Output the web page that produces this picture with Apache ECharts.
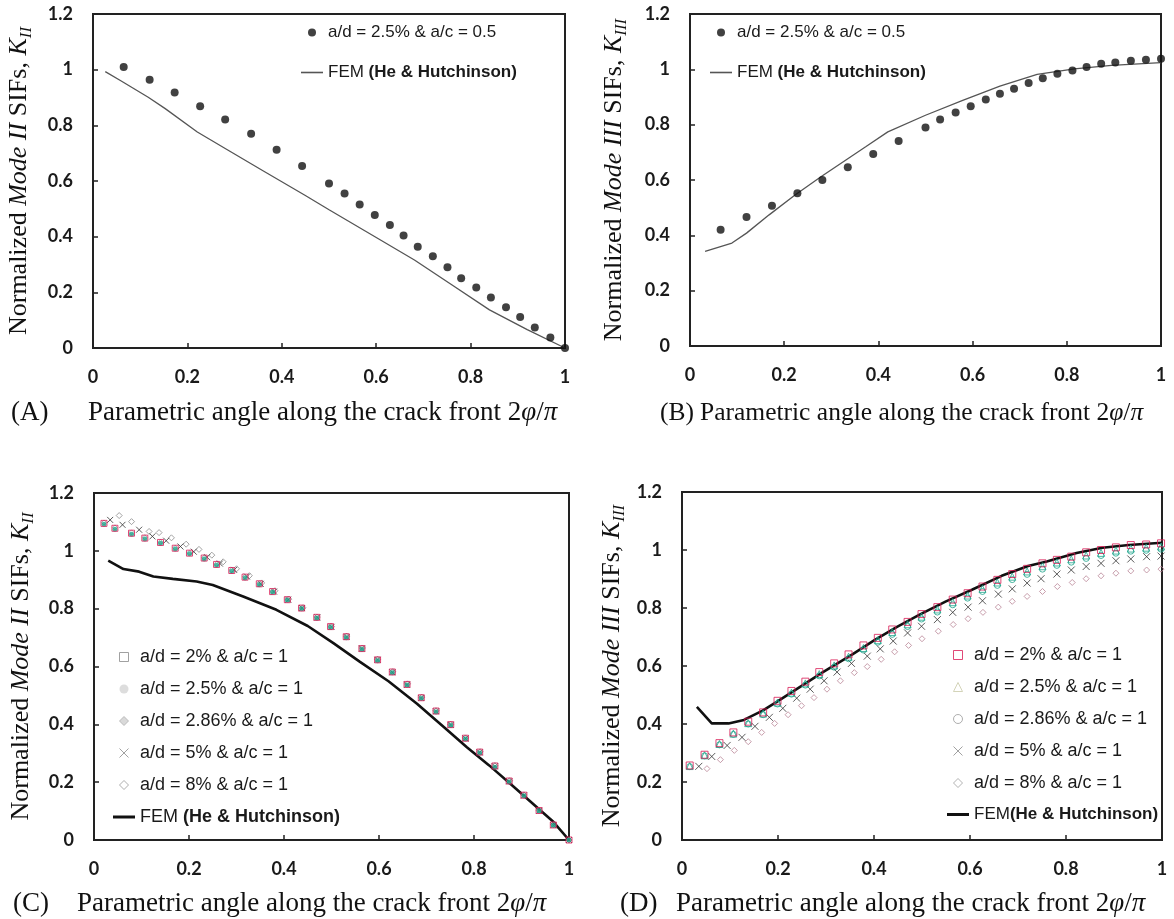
<!DOCTYPE html>
<html>
<head>
<meta charset="utf-8">
<script src="https://cdn.jsdelivr.net/npm/echarts@6/dist/echarts.min.js"></script>
<style>
  html, body { margin: 0; padding: 0; background: #ffffff; }
  #chart { width: 1174px; height: 919px; }
</style>
</head>
<body>
<div id="chart"></div>
<script>
// ---------- Panel A: Mode II, a/d = 2.5 %, a/c = 0.5 ----------
const aX    = [0.065,0.12,0.173,0.227,0.28,0.335,0.389,0.443,0.5,0.533,0.565,0.597,0.629,0.658,0.688,0.72,0.751,0.78,0.812,0.843,0.875,0.905,0.936,0.969,1.0];
const aK    = [1.01,0.964,0.918,0.869,0.821,0.77,0.712,0.654,0.591,0.555,0.516,0.478,0.442,0.404,0.364,0.33,0.29,0.251,0.217,0.181,0.146,0.111,0.074,0.038,0.0];
const aFemX = [0.026,0.058,0.117,0.153,0.221,0.281,0.361,0.449,0.501,0.601,0.681,0.76,0.84,0.92,1.0];
const aFemK = [0.993,0.961,0.901,0.86,0.776,0.716,0.636,0.549,0.496,0.396,0.316,0.227,0.137,0.066,0.0];

// ---------- Panel B: Mode III, a/d = 2.5 %, a/c = 0.5 ----------
const bX    = [0.065,0.12,0.174,0.228,0.281,0.335,0.389,0.443,0.5,0.531,0.564,0.596,0.628,0.658,0.688,0.719,0.749,0.78,0.812,0.842,0.873,0.903,0.936,0.968,1.0];
const bK    = [0.42,0.466,0.507,0.552,0.6,0.646,0.694,0.741,0.79,0.819,0.844,0.867,0.891,0.912,0.93,0.951,0.968,0.984,0.996,1.008,1.02,1.025,1.031,1.035,1.038];
const bFemX = [0.032,0.089,0.12,0.168,0.223,0.278,0.373,0.42,0.5,0.579,0.658,0.737,0.816,0.895,1.0];
const bFemK = [0.342,0.372,0.408,0.474,0.546,0.612,0.72,0.774,0.834,0.888,0.939,0.982,1.002,1.014,1.024];

// ---------- Panel C: Mode II, a/c = 1 ----------
const cX     = [0.021,0.044,0.079,0.107,0.14,0.171,0.201,0.232,0.258,0.29,0.318,0.348,0.376,0.407,0.437,0.469,0.498,0.531,0.564,0.597,0.628,0.659,0.689,0.72,0.751,0.782,0.812,0.844,0.874,0.905,0.937,0.967,1.0];
const cK2    = [1.095,1.078,1.061,1.044,1.029,1.009,0.992,0.975,0.953,0.932,0.909,0.886,0.859,0.831,0.802,0.77,0.738,0.703,0.662,0.623,0.581,0.538,0.492,0.446,0.399,0.352,0.304,0.256,0.204,0.155,0.102,0.052,0.0];
const cK25   = [1.092,1.075,1.057,1.041,1.026,1.006,0.99,0.972,0.95,0.929,0.906,0.883,0.857,0.829,0.8,0.767,0.735,0.699,0.659,0.62,0.578,0.535,0.489,0.443,0.396,0.349,0.301,0.252,0.201,0.152,0.1,0.05,0.0];
const cK286  = [1.098,1.081,1.064,1.047,1.031,1.011,0.994,0.977,0.955,0.934,0.911,0.888,0.861,0.833,0.804,0.772,0.74,0.705,0.664,0.625,0.583,0.54,0.494,0.448,0.401,0.354,0.306,0.258,0.206,0.157,0.104,0.053,0.0];
const cX5    = [0.034,0.06,0.095,0.123,0.152,0.182,0.21,0.238,0.265,0.295,0.322,0.351,0.379,0.409,0.438,0.47,0.5,0.532,0.564,0.597,0.628,0.659,0.689,0.72,0.751,0.782,0.812,0.844,0.874,0.905,0.937,0.967,1.0];
const cK5    = [1.107,1.09,1.073,1.05,1.035,1.015,0.997,0.978,0.956,0.934,0.911,0.886,0.859,0.831,0.802,0.77,0.737,0.702,0.662,0.623,0.58,0.537,0.491,0.445,0.398,0.351,0.303,0.255,0.203,0.154,0.101,0.051,0.0];
const cX8    = [0.053,0.079,0.116,0.137,0.163,0.194,0.221,0.248,0.272,0.3,0.327,0.353,0.381,0.41,0.44,0.47,0.5,0.532,0.565,0.597,0.629,0.66,0.69,0.72,0.751,0.782,0.813,0.844,0.875,0.905,0.937,0.968,1.0];
const cK8    = [1.122,1.101,1.067,1.063,1.045,1.023,1.005,0.985,0.962,0.938,0.914,0.889,0.862,0.833,0.803,0.771,0.738,0.705,0.664,0.625,0.582,0.54,0.494,0.447,0.4,0.353,0.305,0.257,0.205,0.156,0.103,0.053,0.0];
const cFemX  = [0.03,0.062,0.095,0.125,0.166,0.216,0.25,0.314,0.384,0.45,0.504,0.56,0.62,0.68,0.737,0.785,0.832,0.88,0.927,0.967,1.0];
const cFemK  = [0.966,0.937,0.928,0.911,0.903,0.894,0.882,0.842,0.796,0.74,0.681,0.616,0.549,0.471,0.39,0.321,0.258,0.189,0.121,0.063,0.0];

// ---------- Panel D: Mode III, a/c = 1 ----------
const dX     = [0.016,0.047,0.078,0.107,0.138,0.169,0.199,0.228,0.257,0.286,0.317,0.347,0.378,0.408,0.438,0.47,0.499,0.532,0.564,0.595,0.626,0.657,0.688,0.719,0.751,0.781,0.811,0.842,0.873,0.904,0.935,0.967,0.998];
const dK2    = [0.257,0.294,0.334,0.371,0.408,0.44,0.48,0.514,0.546,0.579,0.609,0.64,0.671,0.697,0.726,0.752,0.779,0.803,0.829,0.851,0.874,0.897,0.917,0.935,0.954,0.966,0.977,0.992,1.0,1.009,1.017,1.019,1.023];
const dK25   = [0.255,0.292,0.331,0.367,0.403,0.436,0.474,0.508,0.54,0.572,0.602,0.632,0.662,0.689,0.717,0.744,0.77,0.795,0.82,0.843,0.866,0.888,0.908,0.926,0.944,0.957,0.968,0.981,0.99,0.998,1.005,1.008,1.012];
const dK286  = [0.253,0.29,0.328,0.364,0.4,0.432,0.469,0.503,0.534,0.566,0.596,0.625,0.655,0.682,0.709,0.736,0.762,0.786,0.811,0.834,0.857,0.878,0.898,0.916,0.934,0.947,0.958,0.971,0.981,0.989,0.996,0.999,1.003];
const dX5    = [0.035,0.062,0.094,0.125,0.152,0.182,0.21,0.239,0.267,0.296,0.323,0.353,0.386,0.413,0.44,0.47,0.499,0.532,0.564,0.596,0.626,0.659,0.688,0.719,0.748,0.781,0.811,0.842,0.873,0.904,0.935,0.968,0.998];
const dK5    = [0.254,0.288,0.326,0.354,0.392,0.423,0.454,0.489,0.52,0.549,0.579,0.609,0.634,0.659,0.686,0.714,0.737,0.76,0.785,0.803,0.825,0.848,0.866,0.886,0.901,0.917,0.931,0.943,0.954,0.963,0.969,0.977,0.979];
const dX8    = [0.052,0.08,0.109,0.138,0.166,0.193,0.221,0.249,0.275,0.302,0.33,0.359,0.386,0.415,0.443,0.472,0.5,0.534,0.565,0.596,0.627,0.659,0.688,0.719,0.751,0.782,0.813,0.842,0.873,0.904,0.935,0.968,0.998];
const dK8    = [0.246,0.277,0.309,0.339,0.371,0.402,0.432,0.463,0.491,0.52,0.549,0.577,0.598,0.623,0.649,0.671,0.694,0.72,0.743,0.763,0.785,0.803,0.823,0.84,0.857,0.874,0.888,0.901,0.911,0.92,0.928,0.931,0.934];
const dFemX  = [0.031,0.062,0.097,0.129,0.168,0.199,0.246,0.292,0.355,0.401,0.448,0.495,0.55,0.604,0.666,0.721,0.76,0.822,0.876,0.931,1.0];
const dFemK  = [0.459,0.402,0.402,0.414,0.446,0.478,0.528,0.577,0.64,0.689,0.735,0.777,0.823,0.863,0.911,0.945,0.96,0.99,1.008,1.017,1.025];

// ---------- labels ----------
const xTicks = [0, 0.2, 0.4, 0.6, 0.8, 1];
const yTicks = [0, 0.2, 0.4, 0.6, 0.8, 1, 1.2];
const panelTags = ['(A)', '(B)', '(C)', '(D)'];
const NAME_05  = 'a/d = 2.5% & a/c = 0.5';
const NAME_2   = 'a/d = 2% & a/c = 1';
const NAME_25  = 'a/d = 2.5% & a/c = 1';
const NAME_286 = 'a/d = 2.86% & a/c = 1';
const NAME_5   = 'a/d = 5% & a/c = 1';
const NAME_8   = 'a/d = 8% & a/c = 1';
const FEM      = 'FEM (He & Hutchinson)';
const FEM_D    = 'FEM(He & Hutchinson)';

// ---------- styling helpers ----------
const SERIF = 'Liberation Serif';
const SANS = 'Liberation Sans';
const AXIS_COLOR = '#222222';
const RED = '#d81b55';
const TEAL = '#1fa58c';
const PINK = '#b98496';

const ICON_SQUARE   = 'path://M0,0H10V10H0Z';
const ICON_CROSS    = 'path://M0,0L10,10M10,0L0,10';
const ICON_DIAMOND  = 'path://M5,0L10,5L5,10L0,5Z';
const ICON_TRIANGLE = 'path://M5,0L10,10H0Z';
const ICON_LINE     = 'path://M0,0H22V1.6H0Z';
const ICON_THICK    = 'path://M0,0H22V3H0Z';

function pairs(xs, ys) { return xs.map((x, i) => [x, ys[i]]); }

const tickLabel = {
  margin: 20, color: '#1a1a1a', fontFamily: 'Lato', fontWeight: 'bold', fontSize: 18
};

function xAxis(gi) {
  return {
    gridIndex: gi, type: 'value', min: 0, max: 1, interval: 0.2,
    axisLine: { show: true, onZero: false, lineStyle: { color: AXIS_COLOR, width: 2 } },
    axisTick: { show: true, inside: true, length: 5, lineStyle: { color: AXIS_COLOR, width: 1.5 } },
    axisLabel: Object.assign({}, tickLabel, {
      formatter: v => (xTicks.includes(+v.toFixed(1)) ? String(+v.toFixed(1)) : '')
    }),
    splitLine: { show: false }
  };
}

function yAxis(gi, roman, gap) {
  return {
    gridIndex: gi, type: 'value', min: 0, max: 1.2, interval: 0.2,
    name: 'Normalized {i|Mode ' + roman + '} SIFs, {i|K}{s|' + roman + '}',
    nameLocation: 'middle', nameRotate: 90, nameGap: gap,
    nameTextStyle: {
      fontFamily: SERIF, fontSize: 26, color: '#111', lineHeight: 32,
      rich: {
        i: { fontFamily: SERIF, fontSize: 26, fontStyle: 'italic', color: '#111', lineHeight: 32 },
        s: { fontFamily: SERIF, fontSize: 17, fontStyle: 'italic', color: '#111', lineHeight: 17, verticalAlign: 'bottom' }
      }
    },
    axisLine: { show: true, onZero: false, lineStyle: { color: AXIS_COLOR, width: 2 } },
    axisTick: { show: true, inside: true, length: 5, lineStyle: { color: AXIS_COLOR, width: 1.5 } },
    axisLabel: Object.assign({}, tickLabel, {
      formatter: v => (yTicks.includes(+v.toFixed(1)) ? String(+v.toFixed(1)) : '')
    }),
    splitLine: { show: false }
  };
}

function grid(left, top, width, height) {
  return { left, top, width, height, show: true, borderColor: AXIS_COLOR, borderWidth: 2, backgroundColor: 'transparent' };
}

function scatter(gi, name, data, symbol, size, itemStyle) {
  return {
    type: 'scatter', name, xAxisIndex: gi, yAxisIndex: gi, data,
    symbol, symbolSize: size, itemStyle, clip: false,
    emphasis: { disabled: true }, z: 3
  };
}

function femLine(gi, name, data, color, width) {
  return {
    type: 'line', name, xAxisIndex: gi, yAxisIndex: gi, data,
    showSymbol: false, symbol: 'none', smooth: false,
    lineStyle: { color, width }, emphasis: { disabled: true }, z: 2
  };
}

function legendFormatter(name) {
  if (name.indexOf('FEM') === 0) {
    const k = name.indexOf('(');
    return '{r|' + name.slice(0, k) + '}{b|' + name.slice(k) + '}';
  }
  return name;
}

function legend(left, top, gap, size, femSize, itemHeight, data) {
  return {
    orient: 'vertical', left, top, padding: 0, itemGap: gap,
    itemWidth: 22, itemHeight, selectedMode: false,
    formatter: legendFormatter,
    textStyle: {
      fontFamily: SANS, fontSize: size, color: '#1a1a1a',
      rich: {
        r: { fontFamily: SANS, fontSize: femSize, color: '#1a1a1a' },
        b: { fontFamily: SANS, fontSize: femSize, fontWeight: 'bold', color: '#1a1a1a' }
      }
    },
    data
  };
}

const outline = (c, w) => ({ color: 'transparent', borderColor: c, borderWidth: w || 1 });
const solid = c => ({ color: c, borderWidth: 0 });

// ---------- captions ----------
const captionText = '{t|Parametric angle along the crack front 2}{i|φ}{t|/}{i|π}';
function captionStyle(size) {
  return {
    fontFamily: SERIF, fontSize: size, fontWeight: 'normal', color: '#111',
    rich: {
      t: { fontFamily: SERIF, fontSize: size, color: '#111' },
      i: { fontFamily: SERIF, fontSize: size, fontStyle: 'italic', color: '#111' }
    }
  };
}
function caption(text, left, top, size) {
  return { text, left, top, padding: 0, textStyle: captionStyle(size || 27) };
}

const option = {
  animation: false,
  backgroundColor: '#ffffff',
  title: [
    caption(panelTags[0], 11, 399), caption(captionText, 88, 399),
    caption(panelTags[1], 660, 400, 25.5), caption(captionText, 700, 400, 25.5),
    caption(panelTags[2], 13, 890), caption(captionText, 77, 890),
    caption(panelTags[3], 620, 890), caption(captionText, 676, 890)
  ],
  grid: [
    grid(93, 14, 472, 334),
    grid(690, 14, 471, 332),
    grid(94, 493, 475, 347),
    grid(682, 492, 480, 348)
  ],
  xAxis: [xAxis(0), xAxis(1), xAxis(2), xAxis(3)],
  yAxis: [yAxis(0, 'II', 58), yAxis(1, 'III', 60), yAxis(2, 'II', 57), yAxis(3, 'III', 54)],
  legend: [
    legend(301, 24, 23, 17, 17, 8, [
      { name: NAME_05, icon: 'circle', itemStyle: solid('#111') },
      { name: FEM, icon: ICON_LINE, itemStyle: solid('#555') }
    ]),
    legend(710, 24, 23, 17, 17, 8, [
      { name: NAME_05, icon: 'circle', itemStyle: solid('#111') },
      { name: FEM, icon: ICON_LINE, itemStyle: solid('#555') }
    ]),
    legend(113, 648, 14, 18, 18, 9, [
      { name: NAME_2, icon: ICON_SQUARE, itemStyle: outline('#8a8a8a') },
      { name: NAME_25, icon: 'circle', itemStyle: solid('#d4d4d4') },
      { name: NAME_286, icon: ICON_DIAMOND, itemStyle: { color: '#d0d0d0', borderColor: '#b0b0b0', borderWidth: 1 } },
      { name: NAME_5, icon: ICON_CROSS, itemStyle: outline('#8a8a8a') },
      { name: NAME_8, icon: ICON_DIAMOND, itemStyle: outline('#9a9a9a') },
      { name: FEM, icon: ICON_THICK, itemStyle: solid('#111') }
    ]),
    legend(947, 646, 14, 18, 17, 9, [
      { name: NAME_2, icon: ICON_SQUARE, itemStyle: outline(RED) },
      { name: NAME_25, icon: ICON_TRIANGLE, itemStyle: outline('#c9c9a8') },
      { name: NAME_286, icon: 'circle', itemStyle: outline('#9a9a9a') },
      { name: NAME_5, icon: ICON_CROSS, itemStyle: outline('#8a8a8a') },
      { name: NAME_8, icon: ICON_DIAMOND, itemStyle: outline('#a0a0a0') },
      { name: FEM_D, icon: ICON_THICK, itemStyle: solid('#111') }
    ])
  ],
  series: [
    // Panel A
    femLine(0, FEM, pairs(aFemX, aFemK), '#555555', 1.3),
    scatter(0, NAME_05, pairs(aX, aK), 'circle', 8, solid('#111')),
    // Panel B
    femLine(1, FEM, pairs(bFemX, bFemK), '#555555', 1.3),
    scatter(1, NAME_05, pairs(bX, bK), 'circle', 8, solid('#111')),
    // Panel C
    femLine(2, FEM, pairs(cFemX, cFemK), '#111111', 2.6),
    scatter(2, NAME_8, pairs(cX8, cK8), ICON_DIAMOND, 6, outline('#8c8c8c')),
    scatter(2, NAME_5, pairs(cX5, cK5), ICON_CROSS, 6, outline('#333333')),
    scatter(2, NAME_286, pairs(cX, cK286), ICON_DIAMOND, 5, outline('#9a9a9a')),
    scatter(2, NAME_25, pairs(cX, cK25), 'circle', 5, solid(TEAL)),
    scatter(2, NAME_2, pairs(cX, cK2), ICON_SQUARE, 6, outline(RED)),
    // Panel D
    femLine(3, FEM_D, pairs(dFemX, dFemK), '#111111', 2.6),
    scatter(3, NAME_8, pairs(dX8, dK8), ICON_DIAMOND, 6, outline(PINK)),
    scatter(3, NAME_5, pairs(dX5, dK5), ICON_CROSS, 7, outline('#333333')),
    scatter(3, NAME_286, pairs(dX, dK286), 'circle', 6, outline(TEAL)),
    scatter(3, NAME_25, pairs(dX, dK25), ICON_TRIANGLE, 7, outline(TEAL)),
    scatter(3, NAME_2, pairs(dX, dK2), ICON_SQUARE, 7, outline(RED))
  ]
};

const chart = echarts.init(document.getElementById('chart'), null, { renderer: 'canvas' });
chart.setOption(option);
</script>
</body>
</html>
